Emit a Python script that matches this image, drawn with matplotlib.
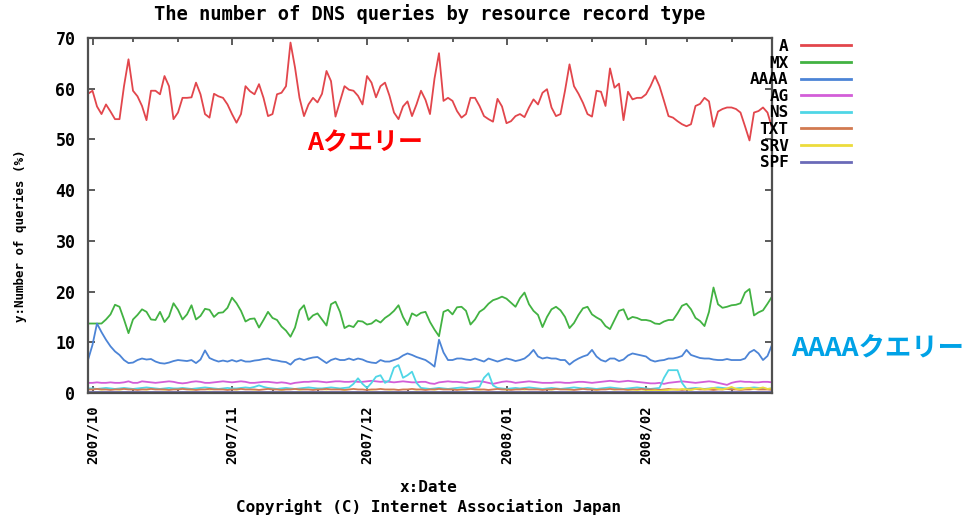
import matplotlib
matplotlib.use('Agg')

import pandas as pd
import matplotlib.pyplot as plt
import matplotlib.dates as mdates

# daily share of queries (%) per record type, 2007-09-30 .. 2008-02-29
dates = pd.date_range('2007-09-30', '2008-02-29', freq='D')

a_rr = [
    59.0, 59.6, 56.5, 55.0, 56.9, 55.5, 54.0, 54.0, 60.5, 65.8,
    59.6, 58.5, 56.6, 53.8, 59.6, 59.6, 58.9, 62.5, 60.5, 54.0,
    55.3, 58.2, 58.2, 58.3, 61.2, 58.9, 55.0, 54.3, 59.0, 58.5,
    58.2, 56.9, 55.0, 53.3, 55.0, 60.5, 59.5, 58.9, 60.9, 58.2,
    54.6, 55.0, 58.9, 59.2, 60.5, 69.1, 64.2, 58.2, 54.6, 56.9,
    58.2, 57.3, 59.0, 63.5, 61.5, 54.5, 57.5, 60.5, 59.8, 59.6,
    58.6, 56.9, 62.5, 61.2, 58.3, 60.5, 61.2, 58.6, 55.3, 54.0,
    56.5, 57.5, 54.6, 56.9, 59.6, 57.8, 55.0, 62.0, 67.0, 57.6,
    58.2, 57.6, 55.6, 54.3, 55.0, 58.2, 58.2, 56.6, 54.6, 54.0,
    53.5, 58.0, 56.5, 53.2, 53.6, 54.6, 55.0, 54.4, 56.3, 57.9,
    56.9, 59.2, 59.9, 56.3, 54.6, 55.0, 59.6, 64.8, 60.5, 59.0,
    57.2, 55.0, 54.5, 59.6, 59.4, 56.6, 64.0, 60.2, 61.0, 53.8,
    59.4, 57.9, 58.2, 58.2, 58.9, 60.5, 62.5, 60.5, 57.6, 54.6,
    54.3, 53.6, 53.0, 52.6, 53.0, 56.6, 57.0, 58.2, 57.5, 52.5,
    55.5, 56.0, 56.3, 56.3, 56.0, 55.3, 52.6, 49.8, 55.3, 55.6,
    56.3, 55.3, 52.3,
]

mx_rr = [
    13.7, 13.7, 13.7, 13.7, 14.5, 15.5, 17.4, 17.0, 14.5, 11.8,
    14.5, 15.4, 16.5, 16.0, 14.5, 14.4, 16.0, 14.0, 15.1, 17.7,
    16.4, 14.5, 15.5, 17.3, 14.5, 15.2, 16.6, 16.4, 15.0, 15.8,
    15.9, 16.8, 18.8, 17.7, 16.2, 14.1, 14.6, 14.7, 12.9, 14.4,
    16.0, 14.8, 14.4, 13.1, 12.3, 11.1, 12.9, 16.3, 17.3, 14.4,
    15.3, 15.7, 14.5, 13.3, 17.5, 18.0, 16.0, 12.8, 13.3, 13.0,
    14.2, 14.1, 13.5, 13.7, 14.4, 13.9, 14.8, 15.4, 16.2, 17.3,
    15.0, 13.4, 15.7, 15.2, 15.8, 16.0, 14.0, 12.5, 11.2, 16.0,
    16.4, 15.5, 16.9, 17.0, 16.2, 13.5, 14.5, 16.0, 16.6, 17.6,
    18.3, 18.6, 19.0, 18.6, 17.8, 17.0, 18.7, 19.8, 17.5, 16.2,
    15.4, 13.0, 15.0, 16.5, 17.0, 16.3, 15.0, 12.8, 13.8, 15.4,
    16.7, 17.0, 15.5, 14.9, 14.4, 13.2, 12.6, 14.4, 16.2, 16.5,
    14.5, 15.0, 14.8, 14.4, 14.4, 14.2, 13.7, 13.6, 14.1, 14.4,
    14.4, 15.7, 17.2, 17.6, 16.5, 14.8, 14.2, 13.2, 16.0, 20.8,
    17.5, 16.8, 17.0, 17.3, 17.4, 17.7, 19.8, 20.5, 15.3, 15.9,
    16.3, 17.6, 19.0,
]

aaaa_rr = [
    6.5, 9.5, 13.7, 12.0, 10.5, 9.2, 8.2, 7.5, 6.5, 5.9,
    6.0, 6.5, 6.8, 6.6, 6.7, 6.2, 5.9, 5.8, 6.0, 6.3,
    6.5, 6.4, 6.3, 6.5, 5.9, 6.6, 8.4, 6.9, 6.5, 6.2,
    6.4, 6.2, 6.5, 6.2, 6.5, 6.2, 6.2, 6.4, 6.5, 6.7,
    6.8, 6.5, 6.4, 6.2, 6.1, 5.6, 6.5, 6.8, 6.5, 6.8,
    7.0, 7.1, 6.5, 5.9, 6.5, 6.8, 6.5, 6.5, 6.8, 6.5,
    6.8, 6.6, 6.2, 6.0, 5.9, 6.5, 6.2, 6.2, 6.5, 6.8,
    7.4, 7.8, 7.5, 7.1, 6.8, 6.5, 5.9, 5.2, 10.5, 8.0,
    6.5, 6.5, 6.8, 6.8, 6.6, 6.5, 6.8, 6.5, 6.2, 6.8,
    6.5, 6.2, 6.5, 6.8, 6.6, 6.3, 6.5, 6.8, 7.5, 8.5,
    7.2, 6.8, 7.0, 6.8, 6.8, 6.5, 6.5, 5.6, 6.3, 6.8,
    7.2, 7.5, 8.5, 7.2, 6.5, 6.2, 6.8, 6.8, 6.3, 6.6,
    7.4, 7.8, 7.6, 7.4, 7.2, 6.5, 6.2, 6.4, 6.5, 6.8,
    6.8, 7.0, 7.3, 8.5, 7.5, 7.2, 6.9, 6.8, 6.8, 6.6,
    6.5, 6.5, 6.7, 6.5, 6.5, 6.5, 6.8, 8.0, 8.5, 7.8,
    6.5, 7.3, 9.5,
]

ag_rr = [
    2.0, 2.0, 2.1, 2.0, 2.0, 2.1, 2.0, 2.0, 2.1, 2.3,
    2.0, 2.0, 2.3, 2.2, 2.1, 2.0, 2.1, 2.2, 2.3, 2.2,
    2.0, 1.9, 2.0, 2.2, 2.3, 2.2, 2.0, 2.0, 2.1, 2.2,
    2.3, 2.2, 2.1, 2.2, 2.3, 2.2, 2.0, 2.0, 2.1, 2.2,
    2.2, 2.1, 2.0, 2.1, 2.0, 1.8, 2.0, 2.1, 2.2, 2.2,
    2.3, 2.3, 2.2, 2.1, 2.2, 2.3, 2.3, 2.2, 2.2, 2.3,
    2.2, 2.2, 2.3, 2.4, 2.3, 2.2, 2.3, 2.2, 2.1, 2.2,
    2.3, 2.2, 2.1, 2.1, 2.2, 2.2, 1.9, 1.8, 2.1, 2.2,
    2.3, 2.2, 2.2, 2.1, 2.0, 2.2, 2.3, 2.3, 2.2, 2.0,
    1.8, 2.0, 2.2, 2.3, 2.2, 2.0, 2.1, 2.2, 2.3, 2.2,
    2.1, 2.0, 2.0, 2.0, 2.1, 2.1, 2.0, 2.0, 2.1, 2.2,
    2.2, 2.1, 2.0, 2.1, 2.2, 2.3, 2.4, 2.3, 2.2, 2.3,
    2.4, 2.3, 2.2, 2.1, 2.0, 1.9, 1.9, 2.0, 1.8, 2.0,
    2.1, 2.2, 2.3, 2.2, 2.1, 2.0, 2.1, 2.2, 2.3, 2.2,
    2.0, 1.8, 1.6, 2.0, 2.2, 2.3, 2.2, 2.2, 2.1, 2.1,
    2.2, 2.2, 2.1,
]

ns_rr = [
    0.9, 0.9, 0.8, 0.9, 1.0, 0.9, 0.8, 0.9, 1.0, 0.9,
    0.8, 0.9, 1.0, 1.1, 1.0, 0.9, 0.8, 0.9, 1.0, 0.9,
    0.9, 1.0, 0.9, 0.8, 0.9, 1.0, 1.1, 1.0, 0.9, 0.8,
    0.9, 1.0, 0.9, 0.9, 1.0, 1.1, 1.0, 1.2, 1.5, 1.2,
    1.0, 0.9, 0.8, 0.9, 1.0, 0.9, 0.8, 0.9, 1.0, 1.1,
    1.0, 0.9, 0.9, 1.0, 1.1, 1.0, 0.9, 1.0, 1.1, 1.8,
    2.9, 1.8, 1.0, 2.0, 3.2, 3.5, 2.0, 2.5, 5.0, 5.5,
    3.0, 3.5, 4.2, 2.0, 1.0, 0.9, 0.8, 0.9, 1.0, 0.9,
    0.8, 0.9, 1.0, 1.1, 1.0, 0.9, 1.0, 1.2, 3.0, 3.9,
    1.5, 1.0, 0.9, 0.8, 0.9, 1.0, 0.9, 1.0, 1.1, 1.0,
    0.9, 0.8, 0.9, 1.0, 0.9, 0.8, 0.9, 1.0, 1.1, 1.0,
    0.9, 1.0, 0.9, 0.8, 0.9, 1.0, 1.1, 1.0, 0.9, 0.8,
    0.9, 1.0, 1.1, 1.0, 0.9, 0.8, 0.9, 1.0, 3.0, 4.5,
    4.5, 4.5, 2.0, 0.8, 0.9, 1.0, 0.9, 0.8, 0.9, 1.0,
    1.1, 1.0, 0.9, 0.8, 0.9, 1.0, 0.9, 1.0, 1.1, 1.0,
    0.9, 0.8, 0.9,
]

txt_rr = [
    0.7, 0.7, 0.8, 0.7, 0.7, 0.6, 0.7, 0.7, 0.8, 0.7,
    0.7, 0.6, 0.7, 0.7, 0.8, 0.7, 0.7, 0.7, 0.6, 0.7,
    0.7, 0.8, 0.7, 0.7, 0.6, 0.7, 0.7, 0.8, 0.7, 0.7,
    0.7, 0.6, 0.7, 0.7, 0.8, 0.7, 0.7, 0.7, 0.6, 0.7,
    0.8, 0.7, 0.7, 0.6, 0.7, 0.7, 0.8, 0.7, 0.7, 0.7,
    0.6, 0.7, 0.7, 0.8, 0.7, 0.7, 0.7, 0.6, 0.7, 0.8,
    0.7, 0.7, 0.6, 0.7, 0.7, 0.8, 0.7, 0.7, 0.7, 0.6,
    0.7, 0.7, 0.8, 0.7, 0.7, 0.6, 0.7, 0.7, 0.8, 0.7,
    0.7, 0.7, 0.6, 0.7, 0.7, 0.8, 0.7, 0.7, 0.7, 0.6,
    0.7, 0.8, 0.7, 0.7, 0.6, 0.7, 0.7, 0.8, 0.7, 0.7,
    0.7, 0.6, 0.7, 0.7, 0.8, 0.7, 0.7, 0.7, 0.6, 0.7,
    0.8, 0.7, 0.7, 0.6, 0.7, 0.7, 0.8, 0.7, 0.7, 0.7,
    0.6, 0.7, 0.7, 0.8, 0.7, 0.7, 0.7, 0.6, 0.7, 0.8,
    0.7, 0.7, 0.6, 0.7, 0.7, 0.8, 0.7, 0.7, 0.7, 0.6,
    0.7, 0.7, 0.8, 0.7, 0.7, 0.6, 0.7, 0.7, 0.8, 0.7,
    0.7, 0.7, 0.6,
]

srv_rr = [
    0.2, 0.2, 0.2, 0.3, 0.2, 0.2, 0.2, 0.3, 0.2, 0.2,
    0.2, 0.2, 0.2, 0.3, 0.2, 0.2, 0.2, 0.3, 0.2, 0.2,
    0.2, 0.2, 0.2, 0.3, 0.2, 0.2, 0.2, 0.3, 0.2, 0.2,
    0.2, 0.2, 0.2, 0.3, 0.2, 0.2, 0.2, 0.3, 0.2, 0.2,
    0.2, 0.2, 0.2, 0.3, 0.2, 0.2, 0.2, 0.3, 0.2, 0.2,
    0.2, 0.2, 0.2, 0.3, 0.2, 0.2, 0.2, 0.3, 0.2, 0.2,
    0.2, 0.2, 0.2, 0.3, 0.2, 0.2, 0.2, 0.3, 0.2, 0.2,
    0.2, 0.2, 0.2, 0.3, 0.2, 0.2, 0.2, 0.3, 0.2, 0.2,
    0.2, 0.2, 0.2, 0.3, 0.2, 0.2, 0.2, 0.3, 0.2, 0.2,
    0.2, 0.2, 0.2, 0.3, 0.2, 0.2, 0.2, 0.3, 0.2, 0.2,
    0.2, 0.2, 0.2, 0.3, 0.2, 0.2, 0.2, 0.3, 0.2, 0.2,
    0.2, 0.2, 0.2, 0.3, 0.2, 0.2, 0.2, 0.3, 0.2, 0.2,
    0.3, 0.3, 0.4, 0.3, 0.4, 0.4, 0.5, 0.4, 0.5, 0.6,
    0.7, 0.6, 0.8, 0.7, 0.6, 0.8, 0.9, 0.7, 0.8, 1.0,
    0.8, 0.7, 0.9, 1.2, 0.8, 0.7, 0.9, 1.0, 0.8, 0.9,
    1.1, 0.8, 0.9,
]

spf_rr = [
    0.1, 0.1, 0.1, 0.1, 0.1, 0.1, 0.1, 0.1, 0.1, 0.1,
    0.1, 0.1, 0.1, 0.1, 0.1, 0.1, 0.1, 0.1, 0.1, 0.1,
    0.1, 0.1, 0.1, 0.1, 0.1, 0.1, 0.1, 0.1, 0.1, 0.1,
    0.1, 0.1, 0.1, 0.1, 0.1, 0.1, 0.1, 0.1, 0.1, 0.1,
    0.1, 0.1, 0.1, 0.1, 0.1, 0.1, 0.1, 0.1, 0.1, 0.1,
    0.1, 0.1, 0.1, 0.1, 0.1, 0.1, 0.1, 0.1, 0.1, 0.1,
    0.1, 0.1, 0.1, 0.1, 0.1, 0.1, 0.1, 0.1, 0.1, 0.1,
    0.1, 0.1, 0.1, 0.1, 0.1, 0.1, 0.1, 0.1, 0.1, 0.1,
    0.1, 0.1, 0.1, 0.1, 0.1, 0.1, 0.1, 0.1, 0.1, 0.1,
    0.1, 0.1, 0.1, 0.1, 0.1, 0.1, 0.1, 0.1, 0.1, 0.1,
    0.1, 0.1, 0.1, 0.1, 0.1, 0.1, 0.1, 0.1, 0.1, 0.1,
    0.1, 0.1, 0.1, 0.1, 0.1, 0.1, 0.1, 0.1, 0.1, 0.1,
    0.1, 0.1, 0.1, 0.1, 0.1, 0.1, 0.1, 0.1, 0.1, 0.1,
    0.1, 0.1, 0.1, 0.1, 0.1, 0.1, 0.1, 0.1, 0.1, 0.1,
    0.1, 0.1, 0.1, 0.1, 0.1, 0.1, 0.1, 0.1, 0.1, 0.1,
    0.1, 0.1, 0.1,
]

series = [
    ('A', a_rr, '#e2464c'),
    ('MX', mx_rr, '#42b242'),
    ('AAAA', aaaa_rr, '#4c84d6'),
    ('AG', ag_rr, '#d35ed8'),
    ('NS', ns_rr, '#4fd6e6'),
    ('TXT', txt_rr, '#d27a50'),
    ('SRV', srv_rr, '#ecdc3c'),
    ('SPF', spf_rr, '#6a6ab8'),
]

MONO = ['DejaVu Sans Mono']
JP = ['Noto Sans CJK JP', 'DejaVu Sans']

fig = plt.figure(figsize=(9.74, 5.17), dpi=100)
ax = fig.add_axes([88 / 974, 1 - 393 / 517, (772 - 88) / 974, (393 - 38) / 517])

for name, vals, col in series:
    ax.plot(dates, vals, color=col, lw=1.3, label=name)

ax.set_xlim(dates[0], dates[-1])
ax.set_ylim(0, 70)
ax.set_yticks(range(0, 71, 10))

ax.xaxis.set_major_locator(mdates.MonthLocator())
ax.xaxis.set_major_formatter(mdates.DateFormatter('%Y/%m'))
ax.xaxis.set_minor_locator(mdates.DayLocator(bymonthday=[10, 20]))

for side in ax.spines.values():
    side.set_color('#505050')
    side.set_linewidth(1.6)

ax.tick_params(which='both', direction='in', top=True, right=True,
               color='#404040', width=1.2)
ax.tick_params(which='major', length=5)
ax.tick_params(which='minor', length=3)
ax.tick_params(axis='y', pad=9)
ax.tick_params(axis='x', pad=9)

for lab in ax.get_yticklabels():
    lab.set_fontfamily(MONO)
    lab.set_fontweight('bold')
    lab.set_fontsize(12)
for lab in ax.get_xticklabels():
    lab.set_fontfamily(MONO)
    lab.set_fontweight('bold')
    lab.set_fontsize(10)
    lab.set_rotation(90)
    lab.set_ha('center')

leg = ax.legend(loc='upper left', bbox_to_anchor=(750 / 974, 1 - 39 / 517),
                bbox_transform=fig.transFigure, frameon=False, markerfirst=False,
                prop={'family': MONO, 'weight': 'bold', 'size': 11.5},
                handlelength=3.1, handletextpad=0.8, labelspacing=0.1,
                borderaxespad=0, borderpad=0)
for line in leg.get_lines():
    line.set_linewidth(2.0)

fig.text(430 / 974, 1 - 14 / 517, 'The number of DNS queries by resource record type',
         ha='center', va='center', family=MONO, weight='bold', fontsize=13.5)
fig.text(20 / 974, 1 - 236 / 517, 'y:Number of queries (%)', rotation=90,
         ha='center', va='center', family=MONO, weight='bold', fontsize=9)
fig.text(428 / 974, 1 - 488 / 517, 'x:Date',
         ha='center', va='center', family=MONO, weight='bold', fontsize=11.5)
fig.text(428 / 974, 1 - 507 / 517, 'Copyright (C) Internet Association Japan',
         ha='center', va='center', family=MONO, weight='bold', fontsize=11.5)

fig.text(365 / 974, 1 - 143 / 517, 'Aクエリー', color='#ff0000',
         ha='center', va='center', family=JP, weight='bold', fontsize=18)
fig.text(878 / 974, 1 - 348 / 517, 'AAAAクエリー', color='#00a2e6',
         ha='center', va='center', family=JP, weight='bold', fontsize=19)

fig.savefig('out.png', dpi=100)
